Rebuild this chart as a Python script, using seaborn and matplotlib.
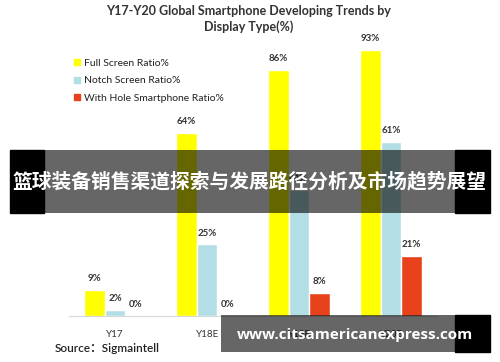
import numpy as np
import pandas as pd
import matplotlib
matplotlib.use("Agg")
import matplotlib.pyplot as plt
import seaborn as sns
from matplotlib.lines import Line2D
from matplotlib.patches import Rectangle

# data
years = ["Y17", "Y18E", "Y19E", "Y20E"]
full_screen = [9, 64, 86, 93]
notch_screen = [2, 25, 44, 61]
with_hole = [0, 0, 8, 21]
series = ["Full Screen Ratio%", "Notch Screen Ratio%", "With Hole Smartphone Ratio%"]
colors = ["#FFFF00", "#B4DEE6", "#E8421C"]

df = pd.DataFrame({"year": years * 3,
                   "value": full_screen + notch_screen + with_hole,
                   "series": [s for s in series for _ in years]})

sns.set_style("white")
plt.rcParams["font.family"] = ["Lato", "Noto Sans CJK SC", "DejaVu Sans"]

fig = plt.figure(figsize=(5, 3.62), dpi=100)
ax = fig.add_axes([0.138, 0.1271, 0.736, 0.790])
sns.barplot(data=df, x="year", y="value", hue="series", palette=colors,
            width=0.67, ax=ax, legend=False, saturation=1)
ax.set_xlim(-0.5, 3.5)
ax.set_ylim(0, 100)
for c in ax.containers:
    ax.bar_label(c, labels=[f"{v:.0f}%" for v in c.datavalues], padding=5,
                 fontsize=7, color="#333333", fontweight="bold")
for s in ["top", "right", "left"]:
    ax.spines[s].set_visible(False)
ax.spines["bottom"].set_color("#d9d9d9")
ax.set_yticks([])
ax.set_xlabel("")
ax.set_ylabel("")
ax.tick_params(axis="x", length=0, labelsize=7, labelcolor="#333333", pad=10)

handles = [Line2D([], [], marker="s", ls="", color=c, markersize=4) for c in colors]
ax.legend(handles, series, loc="upper left", bbox_to_anchor=(0.14, 0.85),
          bbox_transform=fig.transFigure, frameon=False, fontsize=7.5,
          handletextpad=0.3, labelspacing=0.8, handlelength=0.6,
          labelcolor="#222222", borderaxespad=0)

fig.text(0.497, 0.985, "Y17-Y20 Global Smartphone Developing Trends by\nDisplay Type(%)",
         ha="center", va="top", fontsize=9, fontweight="bold", color="#333333",
         linespacing=1.3)
fig.text(0.11, 0.036, "Source：Sigmaintell", fontsize=8.5, color="#222222",
         va="center", fontweight="semibold")

# overlays on top, in pixel coords
ov = fig.add_axes([0, 0, 1, 1], zorder=10)
ov.set_xlim(0, 500)
ov.set_ylim(362, 0)
ov.axis("off")
ov.add_patch(Rectangle((10, 150), 34, 63, color="black"))
ov.add_patch(Rectangle((44, 150), 411, 63, color="black", alpha=0.6, lw=0))
ov.add_patch(Rectangle((455, 150), 35, 63, color="black"))
ov.text(250, 182, "篮球装备销售渠道探索与发展路径分析及市场趋势展望", ha="center", va="center",
        color="white", fontsize=14.2, fontweight="bold",
        family=["Noto Sans CJK SC", "DejaVu Sans"])
ov.add_patch(Rectangle((221, 315), 234, 37, color="black", alpha=0.6, lw=0))
ov.add_patch(Rectangle((455, 315), 35, 37, color="black"))
ov.text(355, 335, "www.citsamericanexpress.com", ha="center", va="center",
        color="white", fontsize=11, fontweight="bold", family=["Open Sans", "DejaVu Sans"])

fig.savefig("out.png", dpi=100)
